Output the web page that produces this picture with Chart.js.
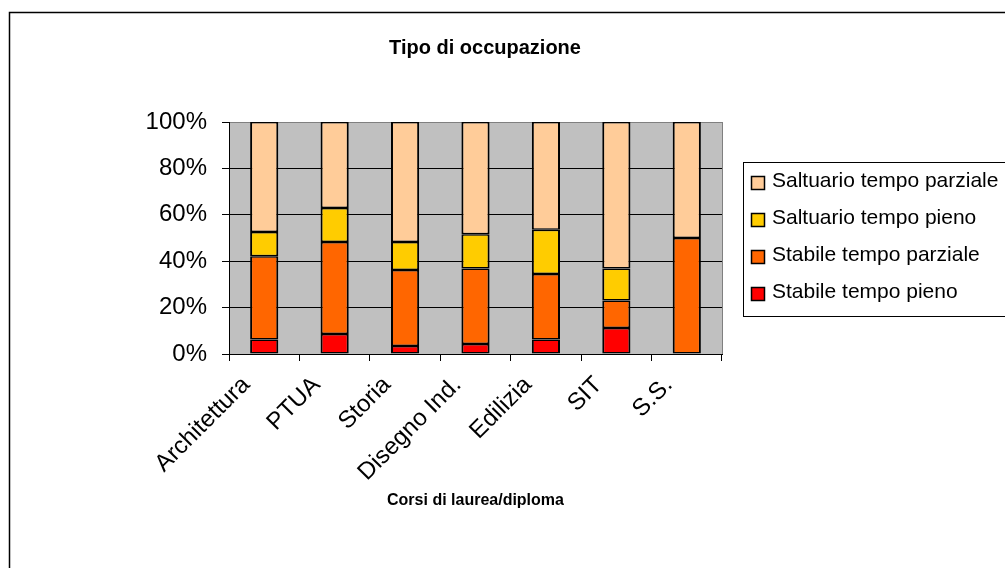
<!DOCTYPE html>
<html>
<head>
<meta charset="utf-8">
<title>Tipo di occupazione</title>
<script src="https://cdn.jsdelivr.net/npm/chart.js@4.4.1/dist/chart.umd.min.js"></script>
<style>
    html, body { margin: 0; padding: 0; background: #fff; }
    #wrap { width: 1005px; height: 568px; position: relative; }
</style>
</head>
<body>
<div id="wrap"><canvas id="occupazioneChart" width="1005" height="568"></canvas></div>
<script>
// Chart data (percent of each course)
const chartTitle = 'Tipo di occupazione';
const axisTitle = 'Corsi di laurea/diploma';
const corsi = ['Architettura', 'PTUA', 'Storia', 'Disegno Ind.', 'Edilizia', 'SIT', 'S.S.'];
const stabilePieno = [6.2, 8.6, 3.4, 4.3, 6.2, 11.2, 0];
const stabileParziale = [35.9, 39.7, 32.8, 32.6, 28.3, 11.9, 50];
const saltuarioPieno = [10.5, 14.6, 12.1, 14.7, 19.1, 13.8, 0];
const saltuarioParziale = [47.4, 37.1, 51.7, 48.4, 46.4, 63.1, 50];
const yTicks = [0, 20, 40, 60, 80, 100];

const colors = {
    stabilePieno: '#FF0000',
    stabileParziale: '#FF6600',
    saltuarioPieno: '#FFCC00',
    saltuarioParziale: '#FFCC99',
    plot: '#C0C0C0'
};
const fontFamily = '"Liberation Sans", Arial, sans-serif';

// Background, frame, title and legend (Excel look)
const excelFrame = {
    id: 'excelFrame',
    beforeDraw(chart) {
        const { ctx, chartArea: a } = chart;
        ctx.save();
        ctx.fillStyle = '#fff';
        ctx.fillRect(0, 0, chart.width, chart.height);
        ctx.fillStyle = colors.plot;
        ctx.fillRect(a.left, a.top, a.right - a.left, a.bottom - a.top);
        ctx.restore();
    },
    afterDatasetsDraw(chart) {
        const { ctx, chartArea: a } = chart;
        ctx.save();
        // plot area right border
        ctx.strokeStyle = '#808080';
        ctx.lineWidth = 1;
        ctx.beginPath();
        ctx.moveTo(a.right + 0.5, a.top);
        ctx.lineTo(a.right + 0.5, a.bottom);
        ctx.stroke();
        // outer frame
        ctx.strokeStyle = '#000';
        ctx.lineWidth = 1.5;
        ctx.strokeRect(9.5, 12.5, 1200, 800);
        // title
        ctx.fillStyle = '#000';
        ctx.font = 'bold 20px ' + fontFamily;
        ctx.textAlign = 'center';
        ctx.textBaseline = 'middle';
        ctx.fillText(chartTitle, 485, 48);
        // legend
        ctx.lineWidth = 1;
        ctx.strokeRect(743.5, 162.5, 400, 154);
        ctx.font = '21px ' + fontFamily;
        ctx.textAlign = 'left';
        const items = chart.data.datasets.slice().reverse();
        items.forEach((ds, i) => {
            const y = 181 + i * 37;
            ctx.fillStyle = ds.backgroundColor;
            ctx.fillRect(751, y - 5, 14, 14);
            ctx.strokeStyle = '#000';
            ctx.lineWidth = 1.5;
            ctx.strokeRect(751.5, y - 4.5, 13, 13);
            ctx.fillStyle = '#000';
            ctx.fillText(ds.label, 772, y);
        });
        ctx.restore();
    }
};

function initializeChart() {
    const barStyle = {
        borderColor: '#000',
        borderWidth: { top: 1.5, bottom: 1.5, left: 2, right: 2 },
        borderSkipped: false
    };

    new Chart(document.getElementById('occupazioneChart').getContext('2d'), {
        type: 'bar',
        data: {
            labels: corsi,
            datasets: [
                { label: 'Stabile tempo pieno', data: stabilePieno, backgroundColor: colors.stabilePieno, ...barStyle },
                { label: 'Stabile tempo parziale', data: stabileParziale, backgroundColor: colors.stabileParziale, ...barStyle },
                { label: 'Saltuario tempo pieno', data: saltuarioPieno, backgroundColor: colors.saltuarioPieno, ...barStyle },
                { label: 'Saltuario tempo parziale', data: saltuarioParziale, backgroundColor: colors.saltuarioParziale, ...barStyle }
            ]
        },
        options: {
            responsive: false,
            animation: false,
            layout: { padding: { top: 122, right: 283, bottom: 0, left: 0 } },
            categoryPercentage: 1,
            barPercentage: 0.4,
            plugins: {
                legend: { display: false },
                title: { display: false },
                tooltip: { enabled: false }
            },
            scales: {
                x: {
                    stacked: true,
                    afterFit: scale => { scale.height = 214; },
                    grid: {
                        display: true,
                        drawOnChartArea: false,
                        drawTicks: true,
                        tickLength: 7,
                        color: '#000',
                        offset: true
                    },
                    border: { display: true, color: '#000', width: 1 },
                    ticks: {
                        color: '#000',
                        font: { family: fontFamily, size: 24 },
                        minRotation: 45,
                        maxRotation: 45,
                        autoSkip: false,
                        padding: 10,
                        labelOffset: -18
                    },
                    title: {
                        display: true,
                        text: axisTitle,
                        color: '#000',
                        font: { family: fontFamily, size: 16, weight: 'bold' },
                        padding: { top: 4, bottom: 58 }
                    }
                },
                y: {
                    stacked: true,
                    min: 0,
                    max: 100,
                    afterFit: scale => { scale.width = 229; },
                    afterBuildTicks: scale => { scale.ticks = yTicks.map(v => ({ value: v })); },
                    grid: {
                        color: c => (c.tick && c.tick.value === 100) ? '#808080' : '#000',
                        tickColor: '#000',
                        tickLength: 7,
                        lineWidth: 1
                    },
                    border: { display: true, color: '#000', width: 1 },
                    ticks: {
                        color: '#000',
                        font: { family: fontFamily, size: 24 },
                        padding: 15,
                        callback: value => value + '%'
                    }
                }
            }
        },
        plugins: [excelFrame]
    });
}

document.addEventListener('DOMContentLoaded', initializeChart);
</script>
</body>
</html>
